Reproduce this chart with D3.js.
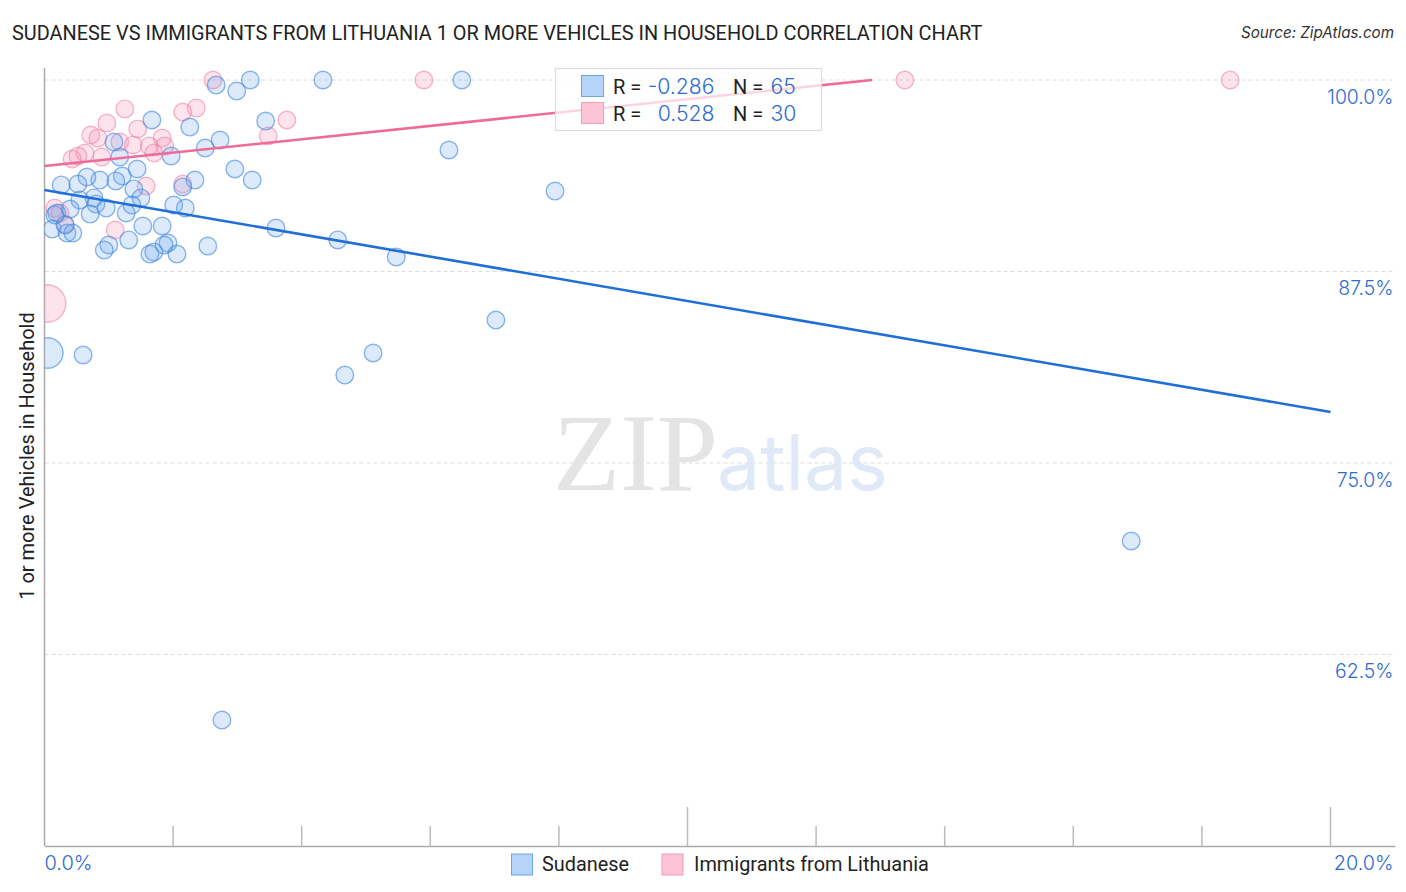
<!DOCTYPE html>
<html>
<head>
<meta charset="utf-8">
<script src="https://cdn.jsdelivr.net/npm/d3@7"></script>
<style>
  body { margin: 0; background: #fff; }
  text { font-family: Roboto, sans-serif; }
  .num { font-family: Inter, Roboto, sans-serif; font-weight: 300; fill: #2f6bd2; }
</style>
</head>
<body>
<div id="chart"></div>
<script>
// [x %, y %], last one in each list is the big dot on the axis
var sudanese = [[0.60,82.05],[2.76,58.22],[4.67,80.74],[5.11,82.18],[7.02,84.33],[16.90,69.91],[7.94,92.75],[6.29,95.43],
  [6.49,100],[4.33,100],[3.20,100],[2.99,99.28],[2.67,99.67],[3.44,97.32],[1.67,97.39],[2.26,96.93],[2.73,96.08],[2.50,95.56],
  [1.97,95.04],[1.17,94.97],[1.08,95.95],[2.96,94.19],[3.23,93.47],[2.34,93.47],[2.15,93.02],[1.44,94.19],[1.21,93.73],[1.11,93.41],
  [0.86,93.47],[0.66,93.67],[0.26,93.15],[0.52,93.21],[1.39,92.89],[1.50,92.30],[0.77,92.30],[0.55,92.17],[0.80,91.91],[0.96,91.64],
  [1.36,91.84],[1.27,91.32],[0.71,91.25],[0.40,91.58],[0.19,91.32],[0.12,90.27],[0.35,90.01],[0.44,90.01],[0.32,90.54],[1.53,90.47],
  [1.83,90.47],[2.01,91.84],[2.19,91.64],[3.60,90.34],[4.56,89.56],[5.47,88.45],[1.31,89.56],[1.00,89.23],[0.93,88.90],[2.54,89.16],
  [1.92,89.36],[1.86,89.23],[1.70,88.77],[1.64,88.64],[2.06,88.64],[0.16,91.19],[0.05,82.18,15.3]];
var lithuania = [[2.62,100],[5.90,100],[13.38,100],[18.44,100],[1.25,98.11],[2.36,98.17],[2.15,97.91],[3.77,97.39],[0.97,97.19],[1.45,96.80],
  [0.72,96.41],[0.83,96.21],[1.83,96.21],[1.17,95.95],[1.38,95.76],[1.63,95.69],[1.87,95.69],[3.48,96.34],[1.70,95.23],[0.63,95.23],
  [0.52,95.04],[0.43,94.84],[0.89,94.97],[1.58,93.08],[2.15,93.21],[0.16,91.64],[0.24,91.32],[0.32,90.60],[1.10,90.21],[0.04,85.41,18.7]];

var blueLine = [[0,92.82],[20,78.33]];
var pinkLine = [[0,94.39],[12.87,100]];

var width = 1406, height = 892;
var x = d3.scaleLinear().domain([0,21]).range([44.5,1394.8]);
var y = d3.scaleLinear().domain([100,50]).range([80,846]);

var svg = d3.select('#chart').append('svg').attr('width',width).attr('height',height).style('display','block');

svg.append('defs').append('clipPath').attr('id','plot')
  .append('rect').attr('x',44.5).attr('y',60).attr('width',1350).attr('height',786);

// grid
svg.selectAll('.grid').data([100,87.5,75,62.5]).enter().append('line')
  .attr('x1',44.5).attr('x2',1394)
  .attr('y1',function(d){return y(d)}).attr('y2',function(d){return y(d)})
  .attr('stroke','#dcdcdc').attr('stroke-dasharray','4,3');

// watermark
svg.append('text').attr('x',553).attr('y',490).style('font-family','"Liberation Serif"')
  .style('font-size','110px').attr('fill','#e4e4e4').text('ZIP');
svg.append('text').attr('x',717).attr('y',490).style('font-family','Inter')
  .style('font-size','77px').attr('fill','#dfe9f8').text('atlas');

// axes
var xAxis = d3.axisBottom(x).tickValues(d3.range(0,21,2)).tickSize(0).tickFormat('');
svg.append('g').attr('transform','translate(0,846)').call(xAxis)
  .call(function(g){ g.select('.domain').attr('stroke','#aaa').attr('stroke-width',1.5); });
svg.selectAll('.xt').data(d3.range(2,21,2)).enter().append('line')
  .attr('x1',function(d){return x(d)}).attr('x2',function(d){return x(d)})
  .attr('y1',function(d){return d%10==0 ? 807 : 826}).attr('y2',846)
  .attr('stroke','#bbb').attr('stroke-width',1.5);
svg.append('line').attr('x1',44.5).attr('x2',44.5).attr('y1',68).attr('y2',846).attr('stroke','#aaa').attr('stroke-width',1.5);

// dots
function dots(data, fill, stroke){
  svg.append('g').attr('clip-path','url(#plot)').selectAll('circle').data(data).enter().append('circle')
    .attr('cx',function(d){return x(d[0])})
    .attr('cy',function(d){return y(d[1])})
    .attr('r',function(d){return d[2] || 8.8})
    .attr('fill',fill).attr('fill-opacity',0.24)
    .attr('stroke',stroke).attr('stroke-opacity',0.6).attr('stroke-width',1.4);
}
dots(lithuania,'#f78fb0','#ef87a8');
dots(sudanese,'#6ba6f0','#3d85e0');

// trend lines
var line = d3.line().x(function(d){return x(d[0])}).y(function(d){return y(d[1])});
svg.append('path').attr('d',line(blueLine)).attr('fill','none').attr('stroke','#1f6fd6').attr('stroke-width',2.6);
svg.append('path').attr('d',line(pinkLine)).attr('fill','none').attr('stroke','#ee6b98').attr('stroke-width',2.6);

// tick labels
svg.selectAll('.yl').data([100,87.5,75,62.5]).enter().append('text').attr('class','num')
  .attr('x',1393.5).attr('y',function(d){return y(d)+23.7}).attr('text-anchor','end')
  .style('font-size','19.4px').text(function(d){return d.toFixed(1)+'%'});
svg.append('text').attr('class','num').attr('x',44.5).attr('y',870).style('font-size','20px').text('0.0%');
svg.append('text').attr('class','num').attr('x',1393.5).attr('y',870).attr('text-anchor','end').style('font-size','19.8px').text('20.0%');

// title etc
svg.append('text').attr('x',12).attr('y',39.5).style('font-size','19.9px').attr('fill','#222')
  .text('SUDANESE VS IMMIGRANTS FROM LITHUANIA 1 OR MORE VEHICLES IN HOUSEHOLD CORRELATION CHART');
svg.append('text').attr('x',1394).attr('y',38).attr('text-anchor','end').style('font-family','Inter').style('font-size','15.2px').style('font-style','italic').attr('fill','#333')
  .text('Source: ZipAtlas.com');
svg.append('text').attr('transform','translate(33.5,456) rotate(-90)').attr('text-anchor','middle').style('font-size','20px').attr('fill','#222')
  .text('1 or more Vehicles in Household');

// legend box
var lg = svg.append('g');
lg.append('rect').attr('x',555.5).attr('y',68.5).attr('width',266).attr('height',62)
  .attr('fill','#fff').attr('fill-opacity',0.72).attr('stroke','#ddd').attr('stroke-width',1.2);
var rows = [
  {r:'-0.286', n:'65', f:'#b6d3f8', s:'#6ba6ea', sy:75.5, ty:93.5},
  {r:'0.528', n:'30', f:'#fcc4d6', s:'#f29cb8', sy:102.5, ty:120.5}
];
rows.forEach(function(d){
  lg.append('rect').attr('x',581.5).attr('y',d.sy).attr('width',22).attr('height',21).attr('fill',d.f).attr('stroke',d.s);
  lg.append('text').attr('x',613).attr('y',d.ty).style('font-size','20px').attr('fill','#222').text('R =');
  lg.append('text').attr('class','num').attr('x',714.5).attr('y',d.ty).attr('text-anchor','end').style('font-size','21.2px').text(d.r);
  lg.append('text').attr('x',733).attr('y',d.ty).style('font-size','20px').attr('fill','#222').text('N =');
  lg.append('text').attr('class','num').attr('x',770.5).attr('y',d.ty).style('font-size','21.2px').text(d.n);
});

// bottom legend
[{x:511.5,f:'#b6d3f8',s:'#6ba6ea',tx:542,t:'Sudanese'},{x:662,f:'#fcc4d6',s:'#f29cb8',tx:694,t:'Immigrants from Lithuania'}].forEach(function(d){
  svg.append('rect').attr('x',d.x).attr('y',854).attr('width',21).attr('height',21).attr('fill',d.f).attr('stroke',d.s);
  svg.append('text').attr('x',d.tx).attr('y',871).style('font-size','19.9px').attr('fill','#222').text(d.t);
});
</script>
</body>
</html>
